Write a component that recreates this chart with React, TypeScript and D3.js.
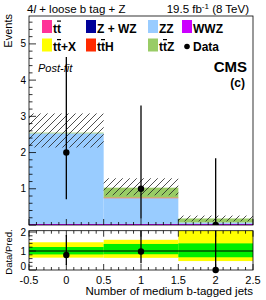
import * as d3 from "d3";
import React from "react";

// bin centres (number of medium b-tagged jets)
const bins = [0, 1, 2];

// stacked post-fit predictions, bottom -> top
const wwz = [0.03, 0.03, 0.03];
const zwz = [0.0, 0.0, 0.0];
const zz = [2.5, 0.71, 0.04];
const ttbar = [0.0, 0.0, 0.0];
const ttx = [0.0, 0.0, 0.0];
const tth = [0.0, 0.02, 0.0];
const ttz = [0.02, 0.27, 0.11];

// total uncertainty band
const uncLow = [2.14, 0.82, 0.1];
const uncHigh = [3.08, 1.29, 0.26];

// observed data with Poisson intervals
const dataVals = [2, 1, 0];
const dataLow = [0.71, 0.17, 0];
const dataHigh = [4.64, 3.3, 1.84];

// ratio panel
const ratioVals = [0.79, 0.97, 0];
const ratioLow = [0.26, 0.36, 0];
const ratioHigh = [1.84, 3.2, 14];
const band1Low = [0.82, 0.83, 0.67];
const band1High = [1.21, 1.37, 1.4];
const band2Low = [0.65, 0.64, 0.47];
const band2High = [1.46, 1.59, 2.5];

const mainTicks = [1, 2, 3, 4, 5];
const ratioTicks = [0, 1, 2];
const xTicks = [-0.5, 0, 0.5, 1, 1.5, 2, 2.5];

const procNames = ["wwz", "zwz", "zz", "ttbar", "ttx", "tth", "ttz"];
const procColors: Record<string, string> = {
	wwz: "#cc00ff",
	zwz: "#000099",
	zz: "#99ccff",
	ttbar: "#ff3399",
	ttx: "#ffff00",
	tth: "#ff2a00",
	ttz: "#99cc66",
};
const legendRows = [
	[
		{ key: "ttbar", label: "tt\u0304" },
		{ key: "zwz", label: "Z + WZ" },
		{ key: "zz", label: "ZZ" },
		{ key: "wwz", label: "WWZ" },
	],
	[
		{ key: "ttx", label: "tt\u0304+X" },
		{ key: "tth", label: "tt\u0304H" },
		{ key: "ttz", label: "tt\u0304Z" },
		{ key: "data", label: "Data" },
	],
];

const font = "'Liberation Sans', Arial, Helvetica, sans-serif";

// split "t\u0304" into an overlined t
const renderLabel = (s: string) => {
	const parts = s.split("t\u0304");
	const out: React.ReactNode[] = [];
	parts.forEach((p, i) => {
		if (p) out.push(<tspan key={"p" + i}>{p}</tspan>);
		if (i < parts.length - 1)
			out.push(
				<tspan key={"o" + i} style={{ textDecoration: "overline" }}>
					t
				</tspan>,
			);
	});
	return out;
};

const App = () => {
	const W = 266;
	const H = 300;
	const left = 29;
	const right = 253;
	const mainTop = 16;
	const mainBottom = 225;
	const ratioTop = 230.7;
	const ratioBottom = 270;

	const x = d3.scaleLinear().domain([-0.5, 2.5]).range([left, right]);
	const y = d3.scaleLinear().domain([0, 5.77]).range([mainBottom, mainTop]);
	const yr = d3.scaleLinear().domain([0, 2]).range([ratioBottom, 232]);

	const table = bins.map((b, i) => ({
		bin: b,
		wwz: wwz[i],
		zwz: zwz[i],
		zz: zz[i],
		ttbar: ttbar[i],
		ttx: ttx[i],
		tth: tth[i],
		ttz: ttz[i],
	}));
	const stacked = d3.stack<any>().keys(procNames)(table);

	const x0 = (b: number) => x(b - 0.5);
	const bw = (b: number) => x(b + 0.5) - x(b - 0.5);

	const minorX = d3.range(-0.5, 2.5001, 0.1);
	const minorY = d3.range(0, 5.77, 0.2);
	const minorYr = d3.range(0, 2.08, 0.2);
	const isMajor = (v: number, step: number) =>
		Math.abs(v / step - Math.round(v / step)) < 1e-6;

	return (
		<svg
			width={W}
			height={H}
			style={{ position: "absolute", left: 0, top: 0, background: "#fff" }}
			fontFamily={font}
		>
			<defs>
				<pattern
					id="hatch"
					patternUnits="userSpaceOnUse"
					width={7}
					height={7}
				>
					<path
						d="M0,7 L7,0 M-1,1 L1,-1 M6,8 L8,6"
						stroke="#222"
						strokeWidth={0.8}
					/>
				</pattern>
				<clipPath id="clipMain">
					<rect x={left} y={mainTop} width={right - left} height={mainBottom - mainTop} />
				</clipPath>
				<clipPath id="clipRatio">
					<rect x={left} y={ratioTop} width={right - left} height={ratioBottom - ratioTop} />
				</clipPath>
			</defs>

			{/* header */}
			<text x={27} y={13} fontSize={11.5}>
				4<tspan fontStyle="italic">l</tspan> + loose b tag + Z
			</text>
			<text x={249} y={13} fontSize={11.5} textAnchor="end">
				19.5 fb<tspan dy={-4} fontSize={8}>-1</tspan>
				<tspan dy={4}> (8 TeV)</tspan>
			</text>

			{/* main panel */}
			<g clipPath="url(#clipMain)">
				{stacked.map((s) => (
					<g key={s.key} fill={procColors[s.key]}>
						{s.map((d, i) =>
							d[1] - d[0] > 0 ? (
								<rect
									key={i}
									x={x0(bins[i])}
									width={bw(bins[i])}
									y={y(d[1])}
									height={y(d[0]) - y(d[1])}
								/>
							) : null,
						)}
					</g>
				))}
				{bins.map((b, i) => (
					<rect
						key={"u" + i}
						x={x0(b)}
						width={bw(b)}
						y={y(uncHigh[i])}
						height={y(uncLow[i]) - y(uncHigh[i])}
						fill="url(#hatch)"
					/>
				))}
				{bins.map((b, i) => (
					<g key={"d" + i}>
						<line
							x1={x(b)}
							x2={x(b)}
							y1={y(dataLow[i])}
							y2={y(dataHigh[i])}
							stroke="#000"
							strokeWidth={1.3}
						/>
						<circle cx={x(b)} cy={y(dataVals[i])} r={3.2} fill="#000" />
					</g>
				))}
			</g>
			<rect
				x={left}
				y={mainTop}
				width={right - left}
				height={mainBottom - mainTop}
				fill="none"
				stroke="#000"
				strokeWidth={0.8}
			/>
			{minorY.map((v) => (
				<line
					key={"my" + v}
					x1={left}
					x2={left + (isMajor(v, 1) ? 7 : 3.5)}
					y1={y(v)}
					y2={y(v)}
					stroke="#000"
					strokeWidth={0.8}
				/>
			))}
			{minorX.map((v) => (
				<line
					key={"mx" + v}
					x1={x(v)}
					x2={x(v)}
					y1={mainBottom}
					y2={mainBottom - (isMajor(v, 0.5) ? 6 : 3)}
					stroke="#000"
					strokeWidth={0.8}
				/>
			))}
			{mainTicks.map((t) => (
				<text key={"yt" + t} x={26} y={y(t) + 3.5} fontSize={10} textAnchor="end">
					{t}
				</text>
			))}
			<text
				transform={`translate(12,14) rotate(-90)`}
				fontSize={11}
				textAnchor="end"
			>
				Events
			</text>

			{/* legend */}
			{legendRows.map((row, r) =>
				row.map((e, c) => {
					const sx = [42, 86, 148, 182][c];
					const base = [32.5, 51][r];
					return (
						<g key={e.key}>
							{e.key === "data" ? (
								<circle cx={187} cy={base - 4.5} r={2.8} fill="#000" />
							) : (
								<rect
									x={sx}
									y={base - 12.5}
									width={10}
									height={13}
									fill={procColors[e.key]}
								/>
							)}
							<text x={sx + 11} y={base} fontSize={12} fontWeight="bold">
								{renderLabel(e.label)}
							</text>
						</g>
					);
				}),
			)}

			<text x={38} y={72} fontSize={11} fontStyle="italic">
				Post-fit
			</text>
			<text x={247} y={72} fontSize={15} fontWeight="bold" textAnchor="end">
				CMS
			</text>
			<text x={245} y={87} fontSize={12} fontWeight="bold" textAnchor="end">
				(c)
			</text>

			{/* ratio panel */}
			<g clipPath="url(#clipRatio)">
				{bins.map((b, i) => (
					<rect
						key={"y2" + i}
						x={x0(b)}
						width={bw(b)}
						y={yr(band2High[i])}
						height={yr(band2Low[i]) - yr(band2High[i])}
						fill="#ffff00"
					/>
				))}
				{bins.map((b, i) => (
					<rect
						key={"g1" + i}
						x={x0(b)}
						width={bw(b)}
						y={yr(band1High[i])}
						height={yr(band1Low[i]) - yr(band1High[i])}
						fill="#00ee00"
					/>
				))}
				<line x1={left} x2={right} y1={yr(1)} y2={yr(1)} stroke="#000" strokeWidth={1} />
				{bins.map((b, i) => (
					<line
						key={"re" + i}
						x1={x(b)}
						x2={x(b)}
						y1={yr(ratioLow[i])}
						y2={yr(ratioHigh[i])}
						stroke="#000"
						strokeWidth={1.3}
					/>
				))}
			</g>
			{bins.map((b, i) => (
				<circle key={"rp" + i} cx={x(b)} cy={yr(ratioVals[i])} r={3.2} fill="#000" />
			))}
			<rect
				x={left}
				y={ratioTop}
				width={right - left}
				height={ratioBottom - ratioTop}
				fill="none"
				stroke="#000"
				strokeWidth={0.8}
			/>
			{minorYr.map((v) => (
				<line
					key={"ry" + v}
					x1={left}
					x2={left + (isMajor(v, 1) ? 7 : 3.5)}
					y1={yr(v)}
					y2={yr(v)}
					stroke="#000"
					strokeWidth={0.8}
				/>
			))}
			{minorX.map((v) => (
				<g key={"rx" + v}>
					<line
						x1={x(v)}
						x2={x(v)}
						y1={ratioBottom}
						y2={ratioBottom - (isMajor(v, 0.5) ? 6 : 3)}
						stroke="#000"
						strokeWidth={0.8}
					/>
					<line
						x1={x(v)}
						x2={x(v)}
						y1={ratioTop}
						y2={ratioTop + (isMajor(v, 0.5) ? 6 : 3)}
						stroke="#000"
						strokeWidth={0.8}
					/>
				</g>
			))}
			{ratioTicks.map((t) => (
				<text
					key={"rt" + t}
					x={26}
					y={t === 0 ? yr(t) : yr(t) + 3.5}
					fontSize={10}
					textAnchor="end"
				>
					{t}
				</text>
			))}
			<text
				transform={`translate(12,252) rotate(-90)`}
				fontSize={9.5}
				textAnchor="middle"
			>
				Data/Pred.
			</text>
			{xTicks.map((t) => (
				<text key={"xt" + t} x={x(t)} y={283.5} fontSize={11} textAnchor="middle">
					{t}
				</text>
			))}
			<text x={253} y={294.5} fontSize={11.5} textAnchor="end">
				Number of medium b-tagged jets
			</text>
		</svg>
	);
};

export default App;
